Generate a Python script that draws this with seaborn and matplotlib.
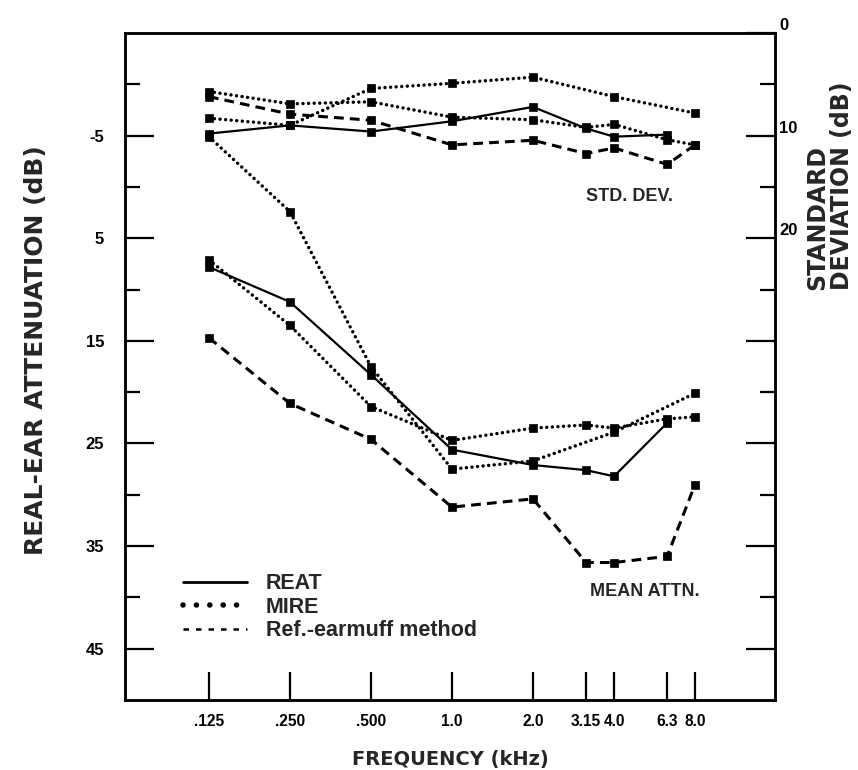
import numpy as np
import pandas as pd
import matplotlib
matplotlib.use("Agg")
import matplotlib.pyplot as plt
from matplotlib.lines import Line2D
from matplotlib.ticker import NullLocator
import seaborn as sns

# ---------------- data ----------------
freq_all = [0.125, 0.25, 0.5, 1.0, 2.0, 3.15, 4.0, 6.3, 8.0]
freq_reat = [0.125, 0.25, 0.5, 1.0, 2.0, 3.15, 4.0, 6.3]
freq_oct = [0.125, 0.25, 0.5, 1.0, 2.0, 4.0, 8.0]
freq_labels = [".125", ".250", ".500", "1.0", "2.0", "3.15", "4.0", "6.3", "8.0"]

# mean attenuation (left axis, dB)
reat_mean = [7.8, 11.2, 18.3, 25.6, 27.1, 27.6, 28.2, 23.0]
mire_mean = [7.1, 13.5, 21.4, 24.7, 23.5, 23.2, 23.5, 22.6, 22.4]
mire_oct_mean = [-4.9, 2.4, 17.5, 27.5, 26.7, 23.9, 20.1]
earmuff_mean = [14.7, 21.1, 24.6, 31.2, 30.4, 36.6, 36.6, 36.0, 29.0]

# standard deviations (right axis, dB)
reat_sd = [9.8, 9.0, 9.6, 8.6, 7.2, 9.3, 10.1, 9.9]
mire_sd = [5.7, 6.9, 6.7, 8.2, 8.45, 9.2, 8.9, 10.4, 10.9]
mire_oct_sd = [8.3, 9.0, 5.4, 4.9, 4.3, 6.2, 7.8]
earmuff_sd = [6.2, 7.9, 8.5, 10.9, 10.45, 11.75, 11.2, 12.8, 10.9]

left_major = [-5, 5, 15, 25, 35, 45]
left_major_labels = ["-5", "5", "15", "25", "35", "45"]
left_minor = [-10, 0, 10, 20, 30, 40]
right_major = [0, 10, 20, 30, 40, 50, 60]
right_major_labels = ["0", "10", "20", "", "", "", ""]
right_minor = [5, 15, 25, 35, 45, 55]
legend_labels = ["REAT", "MIRE", "Ref.-earmuff method"]

# ---------------- styling ----------------
sns.set_theme(style="ticks")
plt.rcParams['font.family'] = ['DejaVu Sans']

fig = plt.figure(figsize=(8.58, 7.70), dpi=100)
ax = fig.add_axes([0.1457, 0.0909, 0.7576, 0.8662])
ax.set_xscale("log")
ax2 = ax.twinx()

solid = dict(color="black", linestyle="-", linewidth=1.6)
dotted = dict(color="black", linestyle=(0, (0.01, 1.6)), dash_capstyle="round", linewidth=2.5)
dashed = dict(color="black", linestyle=(0, (3.2, 2.0)), linewidth=2.2)
mk = dict(marker="s", markersize=5.5, markeredgecolor="black", markerfacecolor="black", markeredgewidth=0.5)

# mean curves on left axis
sns.lineplot(x=freq_reat, y=reat_mean, ax=ax, sort=False, **solid, **mk)
sns.lineplot(x=freq_all, y=mire_mean, ax=ax, sort=False, **dotted, **mk)
sns.lineplot(x=freq_oct, y=mire_oct_mean, ax=ax, sort=False, **dotted, **mk)
sns.lineplot(x=freq_all, y=earmuff_mean, ax=ax, sort=False, **dashed, **mk)

# SD curves on right axis
sns.lineplot(x=freq_reat, y=reat_sd, ax=ax2, sort=False, **solid, **mk)
sns.lineplot(x=freq_all, y=mire_sd, ax=ax2, sort=False, **dotted, **mk)
sns.lineplot(x=freq_oct, y=mire_oct_sd, ax=ax2, sort=False, **dotted, **mk)
sns.lineplot(x=freq_all, y=earmuff_sd, ax=ax2, sort=False, **dashed, **mk)

ax.set_xlim(0.061, 15.86)
ax.set_ylim(50, -15)
ax2.set_ylim(65, 0)

tick_font = dict(family="Liberation Sans", weight="bold", size=12)
xtick_font = dict(family="Liberation Sans", weight="bold", size=11.2)

ax.set_xticks(freq_all)
ax.set_xticklabels(freq_labels, fontdict=xtick_font)
ax.xaxis.set_minor_locator(NullLocator())
ax.tick_params(axis="x", which="major", direction="in", length=20, width=1.6,
               pad=10, bottom=True, top=False, colors="black")

ax.set_yticks(left_major)
ax.set_yticklabels(left_major_labels, fontdict=tick_font)
ax.set_yticks(left_minor, minor=True)
ax.tick_params(axis="y", which="major", direction="in", length=21, width=1.6,
               pad=15, left=True, right=False, colors="black")
ax.tick_params(axis="y", which="minor", direction="in", length=11, width=1.6,
               left=True, right=False, colors="black")

ax2.set_yticks(right_major)
ax2.set_yticklabels(right_major_labels, fontdict=tick_font)
ax2.set_yticks(right_minor, minor=True)
ax2.tick_params(axis="y", which="major", direction="in", length=21, width=1.6,
                pad=3, right=True, left=False, colors="black")
ax2.tick_params(axis="y", which="minor", direction="in", length=11, width=1.6,
                right=True, left=False, colors="black")
for t in ax2.yaxis.get_major_ticks():
    t.label2.set_va("bottom")

for a in (ax, ax2):
    for s in a.spines.values():
        s.set_color("black")
        s.set_linewidth(1.8)
    a.set_ylabel("")
    a.grid(False)

ax.set_xlabel("FREQUENCY (kHz)", fontsize=14, fontweight="bold", labelpad=15)

fig.text(36 / 858, 1 - 350 / 770, "REAL-EAR ATTENUATION (dB)", rotation=90,
         ha="center", va="center", fontsize=18, fontweight="bold")
fig.text(830 / 858, 1 - 290 / 770, "STANDARD\nDEVIATION (dB)", rotation=90,
         ha="center", va="bottom", multialignment="left", fontsize=17,
         fontweight="bold", linespacing=1.05)

ann_font = dict(family="Liberation Sans", weight="bold", size=13)
fig.text(586 / 858, 1 - 197 / 770, "STD. DEV.", ha="left", va="center", fontdict=ann_font)
fig.text(590 / 858, 1 - 592 / 770, "MEAN ATTN.", ha="left", va="center", fontdict=ann_font)

handles = [
    Line2D([], [], color="black", lw=2.0, ls="-"),
    Line2D([], [], color="black", lw=4.0, ls=(0, (0.01, 2.4)), dash_capstyle="round"),
    Line2D([], [], color="black", lw=1.8, ls=(0, (2.2, 2.8))),
]
ax2.legend(handles, legend_labels, loc="upper left", bbox_to_anchor=(0.089, 0.19),
           frameon=False, handlelength=3.0, handletextpad=0.85, labelspacing=0.12,
           borderpad=0, borderaxespad=0,
           prop=dict(family="Liberation Sans", weight="bold", size=15.5))

fig.savefig("out.png", dpi=100, facecolor="white")
